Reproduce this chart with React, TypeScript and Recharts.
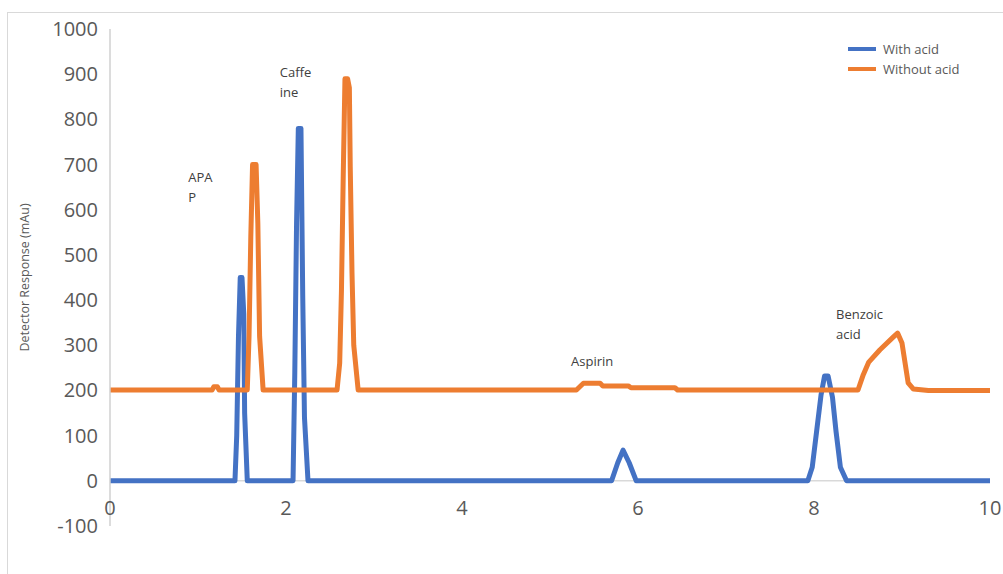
import React from "react";
import { LineChart, Line, XAxis, YAxis, ReferenceLine, ReferenceDot } from "recharts";

// retention time (min) and detector response (mAu)
const withAcidTime = [
  0, 1.42, 1.44, 1.46, 1.48, 1.5, 1.52, 1.53, 1.56,
  2.08, 2.1, 2.12, 2.14, 2.17, 2.19, 2.21, 2.25,
  5.7, 5.77, 5.83, 5.9, 5.98,
  7.93, 7.98, 8.03, 8.08, 8.12, 8.16, 8.21, 8.25, 8.3, 8.37, 10,
];
const withAcidResponse = [
  0, 0, 100, 320, 450, 450, 370, 150, 0,
  0, 240, 570, 780, 780, 410, 140, 0,
  0, 40, 68, 40, 0,
  0, 30, 110, 190, 232, 232, 185, 110, 30, 0, 0,
];
const withoutAcidTime = [
  0, 1.16, 1.18, 1.22, 1.24,
  1.56, 1.58, 1.6, 1.62, 1.66, 1.68, 1.7, 1.74,
  2.58, 2.61, 2.63, 2.65, 2.67, 2.7, 2.72, 2.73, 2.75, 2.77, 2.82,
  5.3, 5.38, 5.57, 5.6, 5.89, 5.92, 6.42, 6.45,
  8.5, 8.56, 8.62, 8.75, 8.9, 8.95, 9.0, 9.07, 9.13, 9.3, 10,
];
const withoutAcidResponse = [
  201, 201, 208, 208, 201,
  201, 320, 540, 700, 700, 570, 320, 201,
  201, 260, 420, 670, 890, 890, 870, 695, 460, 300, 201,
  201, 216, 216, 210, 210, 206, 206, 201,
  201, 235, 262, 290, 318, 327, 305, 217, 203, 200, 200,
];

const xTicks = [0, 2, 4, 6, 8, 10];
const yTicks = [-100, 0, 100, 200, 300, 400, 500, 600, 700, 800, 900, 1000];
const seriesNames = ["With acid", "Without acid"];
const seriesColors = ["#4472C4", "#ED7D31"];

const peakNames = [["APA", "P"], ["Caffe", "ine"], ["Aspirin"], ["Benzoic", "acid"]];
const peakLabelTime = [0.89, 1.93, 5.24, 8.25];
const peakLabelResponse = [661, 894, 254, 358];

const withAcid = withAcidTime.map((t, i) => ({ t, v: withAcidResponse[i] }));
const withoutAcid = withoutAcidTime.map((t, i) => ({ t, v: withoutAcidResponse[i] }));

const FONT = "'Open Sans', sans-serif";

const XTick = ({ x, y, payload }: any) => (
  <text x={x} y={y - 19} textAnchor="middle" fill="#595959" fontSize={20} fontFamily={FONT}>
    {payload.value}
  </text>
);

const YTick = ({ x, y, payload }: any) => (
  <text x={x - 4} y={y + 7} textAnchor="end" fill="#595959" fontSize={20} fontFamily={FONT}>
    {payload.value}
  </text>
);

const YLabel = ({ viewBox }: any) => {
  const cx = 24;
  const cy = viewBox.y + viewBox.height / 2;
  return (
    <text
      x={cx}
      y={cy}
      transform={`rotate(-90 ${cx} ${cy})`}
      textAnchor="middle"
      dominantBaseline="central"
      fill="#595959"
      fontSize={12.5}
      fontFamily={FONT}
    >
      Detector Response (mAu)
    </text>
  );
};

const LegendBox = () => (
  <div style={{ position: "absolute", left: 848, top: 39, fontFamily: FONT, fontSize: 13, color: "#595959" }}>
    {seriesNames.map((name, i) => (
      <div key={name} style={{ display: "flex", alignItems: "center", height: 20 }}>
        <span style={{ display: "inline-block", width: 28, height: 4, background: seriesColors[i], marginRight: 7 }} />
        {name}
      </div>
    ))}
  </div>
);

export default function App() {
  return (
    <div style={{ position: "absolute", left: 0, top: 0, width: 1003, height: 574, overflow: "hidden", background: "#fff" }}>
      <div
        style={{
          position: "absolute",
          left: 7,
          top: 12,
          width: 1020,
          height: 600,
          border: "1px solid #d9d9d9",
        }}
      />
      <LineChart
        width={1003}
        height={574}
        margin={{ top: 29, right: 13, bottom: 28, left: 0 }}
        style={{ position: "absolute", left: 0, top: 0 }}
      >
        <XAxis
          dataKey="t"
          type="number"
          domain={[0, 10]}
          ticks={xTicks}
          axisLine={false}
          tickLine={false}
          height={20}
          tick={<XTick />}
          allowDataOverflow
        />
        <YAxis
          type="number"
          domain={[-100, 1000]}
          ticks={yTicks}
          width={110}
          axisLine={{ stroke: "#d0d0d0", strokeWidth: 1.5 }}
          tickLine={false}
          tick={<YTick />}
          interval={0}
          label={<YLabel />}
        />
        <ReferenceLine y={0} stroke="#d9d9d9" strokeWidth={1.5} />
        <Line
          data={withAcid}
          dataKey="v"
          name={seriesNames[0]}
          type="linear"
          stroke={seriesColors[0]}
          strokeWidth={5}
          strokeLinejoin="round"
          dot={false}
          isAnimationActive={false}
        />
        <Line
          data={withoutAcid}
          dataKey="v"
          name={seriesNames[1]}
          type="linear"
          stroke={seriesColors[1]}
          strokeWidth={5}
          strokeLinejoin="round"
          dot={false}
          isAnimationActive={false}
        />
        {peakNames.map((lines, i) => (
          <ReferenceDot
            key={lines[0]}
            x={peakLabelTime[i]}
            y={peakLabelResponse[i]}
            r={0}
            shape={(p: any) => (
              <text x={p.cx} y={p.cy} fill="#404040" fontSize={13} fontFamily={FONT}>
                {lines.map((s, j) => (
                  <tspan key={s} x={p.cx} dy={j === 0 ? 0 : 20}>
                    {s}
                  </tspan>
                ))}
              </text>
            )}
          />
        ))}
      </LineChart>
      <LegendBox />
    </div>
  );
}
